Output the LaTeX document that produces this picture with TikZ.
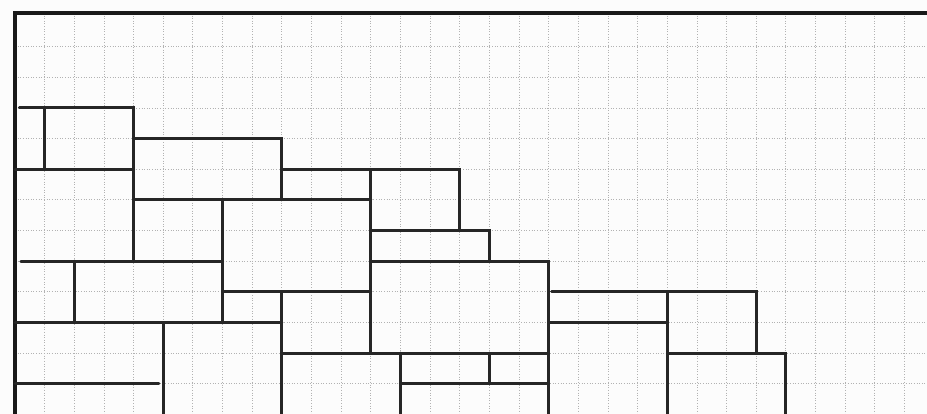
\documentclass[tikz,border=0pt]{standalone}
\usepackage{tikz}

\begin{document}
\begin{tikzpicture}[x={(0.593cm,0)}, y={(0,-0.613cm)},
    gridline/.style={gray!60, line width=0.5pt, densely dotted},
    wall/.style={black!85, line width=1.7pt, line cap=round},
    frame/.style={black!90, line width=2.1pt}]
  \useasboundingbox (-0.506,-0.522) rectangle (30.759,12.985);
  \fill[gray!2] (-0.506,-0.522) rectangle (30.759,12.985);
  \foreach \i in {1,...,30}
    \draw[gridline] (\i,-0.1) -- (\i,12.985);
  \foreach \j in {1,...,12}
    \draw[gridline] (0,\j) -- (30.759,\j);
  \draw[frame] (0,12.985) -- (0,-0.1) -- (30.759,-0.1);
  \draw[wall] (0.15,3) -- (4,3) -- (4,8);
  \draw[wall] (1,3) -- (1,5);
  \draw[wall] (0,5) -- (4,5);
  \draw[wall] (4,4) -- (9,4) -- (9,6);
  \draw[wall] (9,5) -- (15,5) -- (15,7);
  \draw[wall] (12,5) -- (12,11);
  \draw[wall] (4,6) -- (12,6);
  \draw[wall] (7,6) -- (7,10);
  \draw[wall] (0.2,8) -- (7,8);
  \draw[wall] (2,8) -- (2,10);
  \draw[wall] (0,10) -- (9,10);
  \draw[wall] (7,9) -- (12,9);
  \draw[wall] (9,9) -- (9,12.985);
  \draw[wall] (5,10) -- (5,12.985);
  \draw[wall] (0,12) -- (4.85,12);
  \draw[wall] (12,7) -- (16,7) -- (16,8);
  \draw[wall] (12,8) -- (18,8) -- (18,12.985);
  \draw[wall] (9,11) -- (18,11);
  \draw[wall] (13,11) -- (13,12.985);
  \draw[wall] (16,11) -- (16,12);
  \draw[wall] (13,12) -- (18,12);
  \draw[wall] (18.1,9) -- (25,9) -- (25,11);
  \draw[wall] (18,10) -- (22,10);
  \draw[wall] (22,9) -- (22,12.985);
  \draw[wall] (22,11) -- (26,11) -- (26,12.985);
\end{tikzpicture}
\end{document}
